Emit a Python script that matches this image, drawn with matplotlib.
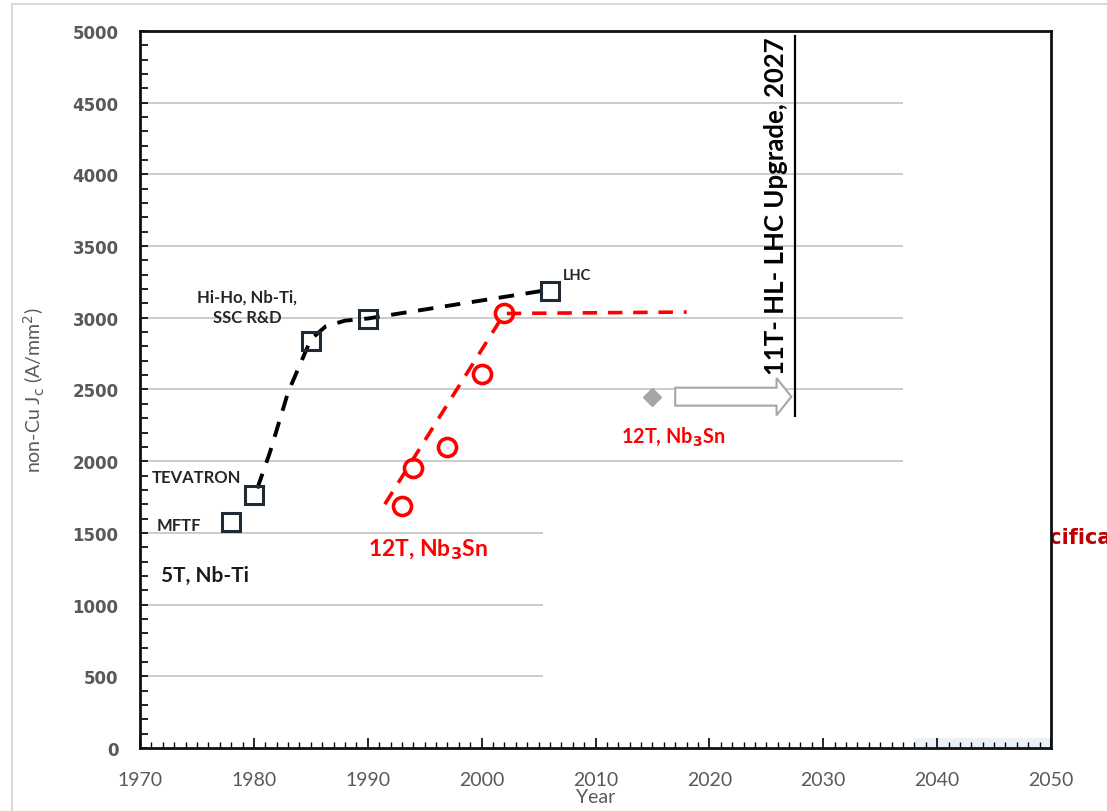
import numpy as np
import matplotlib
matplotlib.use("Agg")
import matplotlib.pyplot as plt
from matplotlib.patches import FancyArrow, Rectangle
from matplotlib.ticker import MultipleLocator

# Nb-Ti magnets (black squares)
nbti_year = [1978, 1980, 1985, 1990, 2006]
nbti_jc = [1575, 1765, 2835, 2990, 3190]
# dashed trend through Nb-Ti
nbti_trend_year = [1980.3, 1981.4, 1983.0, 1985.0, 1986.3, 1988.0, 1990.0, 2005.5]
nbti_trend_jc = [1810, 2060, 2480, 2850, 2940, 2980, 2995, 3190]

# Nb3Sn (red circles)
nb3sn_year = [1993, 1994, 1997, 2000, 2002]
nb3sn_jc = [1690, 1955, 2100, 2610, 3030]
nb3sn_trend_year = [1991.5, 2002, 2018]
nb3sn_trend_jc = [1700, 3030, 3040]

# 11T point and arrow to 2027
hl_year, hl_jc = 2015, 2450
arrow_year = [2017, 2027.2]
upgrade_year = 2027.5
upgrade_span = [2310, 4970]

# gridlines: levels and the year where each group stops
grid_low = [500, 1000, 1500]
grid_low_end = 2005.4
grid_high = [2000, 2500, 3000, 3500, 4000, 4500]
grid_high_end = 2037.0

grey = "#595959"
plt.rcParams["font.family"] = ["Lato", "DejaVu Sans"]

fig = plt.figure(figsize=(11.07, 8.12), dpi=100)
ax = fig.add_axes([0.1265, 0.0776, 0.8229, 0.883])

# faint frame around the figure
fig.patches.append(Rectangle((0.011, -0.01), 1.2, 1.004, transform=fig.transFigure,
                             fill=False, edgecolor="#D0D0D0", lw=1.2, zorder=-5))
# text partly hidden behind the axes (cut at the right edge, as in the source)
fig.text(0.908, 0.338, "Specifica", color="#C00000", fontsize=15, fontweight="bold",
         zorder=-1, va="center", family="DejaVu Sans")

ax.hlines(grid_low, 1970, grid_low_end, color="#C8C8C8", lw=1.3, zorder=1)
ax.hlines(grid_high, 1970, grid_high_end, color="#C8C8C8", lw=1.3, zorder=1)
ax.fill_between([2038, 2050], 0, 70, color="#E9F0F8", lw=0, zorder=0)

ax.plot(nbti_trend_year, nbti_trend_jc, color="black", lw=2.8, dashes=(4, 3), zorder=3)
ax.plot(nbti_year, nbti_jc, ls="none", marker="s", ms=12.5, mfc="none",
        mec="#1F2A36", mew=2.2, zorder=4)

ax.plot(nb3sn_trend_year, nb3sn_trend_jc, color="red", lw=2.6, dashes=(4, 3), zorder=3)
ax.plot(nb3sn_year, nb3sn_jc, ls="none", marker="o", ms=13, mfc="none",
        mec="red", mew=2.6, zorder=4)

ax.plot([hl_year], [hl_jc], ls="none", marker="D", ms=9, color="#A6A6A6", zorder=4)
ax.add_patch(FancyArrow(arrow_year[0], hl_jc, arrow_year[1] - arrow_year[0], 0,
                        width=125, head_width=260, head_length=1.3,
                        length_includes_head=True, facecolor="white",
                        edgecolor="#A6A6A6", lw=1.5, zorder=4))
ax.vlines(upgrade_year, upgrade_span[0], upgrade_span[1], color="black", lw=1.6, zorder=4)
ax.text(upgrade_year - 0.6, 4960, "11T- HL- LHC Upgrade, 2027", rotation=90,
        ha="right", va="top", fontsize=18.5, fontweight="bold", color="black", zorder=5)

# annotations
lab = dict(fontsize=12, fontweight="bold", color="#262626")
ax.text(1979.4, 3080, "Hi-Ho, Nb-Ti,\nSSC R&D", ha="center", va="center",
        linespacing=1.35, **lab)
ax.text(1971.0, 1890, "TEVATRON", ha="left", va="center", **lab)
ax.text(1971.5, 1555, "MFTF", ha="left", va="center", **lab)
ax.text(2007.1, 3295, "LHC", ha="left", va="center", fontsize=10.5,
        fontweight="bold", color="#262626")
ax.text(1971.8, 1210, "5T, Nb-Ti", ha="left", va="center", fontsize=15,
        fontweight="bold", color="#1A1A1A")
ax.text(1990.0, 1390, "12T, Nb$_\\mathbf{3}$Sn", ha="left", va="center", fontsize=16.5,
        fontweight="bold", color="red")
ax.text(2012.2, 2175, "12T, Nb$_\\mathbf{3}$Sn", ha="left", va="center", fontsize=14.3,
        fontweight="bold", color="red")

ax.set_xlim(1970, 2050)
ax.set_ylim(0, 5000)
ax.xaxis.set_major_locator(MultipleLocator(10))
ax.xaxis.set_minor_locator(MultipleLocator(1))
ax.yaxis.set_major_locator(MultipleLocator(500))
ax.yaxis.set_minor_locator(MultipleLocator(100))
ax.tick_params(axis="x", which="major", direction="in", length=7, width=1.2,
               pad=16.5, labelsize=14, labelcolor=grey)
ax.tick_params(axis="x", which="minor", direction="in", length=4, width=1.0)
ax.tick_params(axis="y", which="both", direction="in", length=6, width=1.2,
               pad=15.5, labelsize=12, labelcolor=grey)
for lb in ax.get_yticklabels():
    lb.set_fontweight("bold")
    lb.set_family("DejaVu Sans")

for s in ax.spines.values():
    s.set_color("#111111")
    s.set_linewidth(2.0)

ax.set_xlabel("Year", fontsize=14, color=grey, labelpad=0)
ax.set_ylabel("non-Cu J$_\\mathrm{c}$ (A/mm$^2$)", fontsize=14, color=grey, labelpad=18)

fig.savefig("out.png", dpi=100)
